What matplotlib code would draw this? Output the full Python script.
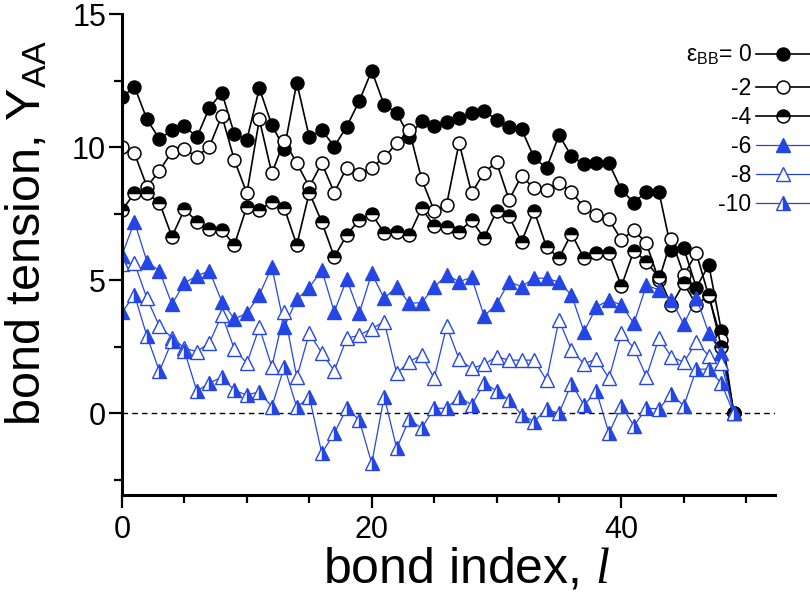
import matplotlib
matplotlib.use("Agg")
import matplotlib.pyplot as plt
import numpy as np

# ---------------- data ----------------
bond_index = list(range(50))

eps_labels = ["0", "-2", "-4", "-6", "-8", "-10"]

tension_eps0 = [11.88, 12.28, 11.05, 10.31, 10.65, 10.80, 10.38, 11.49, 12.05, 10.50,
                10.28, 12.22, 10.84, 9.95, 12.43, 10.38, 10.65, 10.03, 10.78, 11.74,
                12.88, 11.59, 11.30, 10.40, 11.00, 10.80, 10.96, 11.09, 11.30, 11.38,
                11.03, 10.78, 10.68, 9.62, 9.21, 10.46, 9.67, 9.37, 9.42, 9.40,
                8.40, 7.92, 8.33, 8.33, 6.14, 6.20, 4.73, 5.58, 3.11, 0.0]

tension_eps2 = [10.00, 9.77, 8.52, 9.12, 9.84, 9.92, 9.65, 10.03, 11.18, 9.52,
                8.27, 11.05, 9.02, 10.25, 9.40, 8.52, 9.40, 8.30, 9.24, 8.98,
                9.24, 9.62, 10.15, 10.65, 8.80, 7.62, 7.85, 10.17, 8.28, 9.05,
                9.44, 8.03, 8.92, 8.46, 8.40, 8.66, 8.33, 7.74, 7.46, 7.29,
                6.52, 6.89, 6.39, 5.00, 6.54, 5.20, 6.02, 4.40, 2.76, 0.0]

tension_eps4 = [7.64, 8.27, 8.27, 7.92, 6.64, 7.67, 7.21, 6.92, 6.89, 6.33,
                7.77, 7.64, 7.96, 7.71, 6.33, 8.30, 7.19, 5.88, 6.70, 7.28,
                7.50, 6.78, 6.83, 6.70, 7.71, 7.04, 6.99, 6.83, 7.25, 6.60,
                7.60, 7.40, 6.45, 7.62, 6.25, 5.84, 6.76, 5.83, 6.02, 6.01,
                4.78, 6.12, 5.70, 5.11, 4.07, 4.89, 4.07, 4.45, 2.50, 0.0]

tension_eps6 = [5.95, 7.20, 5.70, 5.35, 4.10, 4.90, 5.17, 5.35, 4.20, 3.55,
                3.76, 4.45, 5.51, 3.26, 4.28, 4.73, 5.39, 3.82, 5.04, 3.76,
                5.26, 4.32, 4.76, 4.14, 4.16, 4.74, 5.20, 4.95, 5.11, 3.66,
                4.10, 4.95, 4.76, 5.08, 5.08, 4.93, 4.45, 3.07, 4.00, 4.26,
                4.07, 3.38, 4.82, 4.64, 4.26, 3.35, 4.35, 3.01, 2.26, 0.0]

tension_eps8 = [5.60, 5.65, 4.32, 3.27, 2.85, 2.45, 2.32, 2.65, 3.70, 2.42,
                1.88, 3.23, 1.75, 3.80, 1.35, 3.01, 2.27, 1.60, 2.82, 2.94,
                3.18, 3.45, 1.50, 1.94, 2.19, 1.32, 3.28, 2.03, 1.69, 1.84,
                2.13, 2.00, 2.00, 2.00, 1.25, 3.51, 2.38, 1.86, 2.05, 1.32,
                3.01, 2.44, 1.38, 2.82, 2.13, 1.92, 2.68, 2.16, 1.90, 0.0]

tension_eps10 = [3.80, 4.45, 2.90, 1.58, 2.72, 2.35, 0.83, 1.14, 1.36, 0.86,
                 0.69, 0.81, 0.25, 1.75, 0.22, 0.63, -1.50, -0.75, 0.19, -0.25,
                 -1.88, 0.63, -1.32, -0.23, -0.56, 0.19, 0.19, 0.63, 0.31, 1.13,
                 0.85, 0.50, -0.06, -0.31, 0.15, 0.00, 1.12, 0.31, 0.83, -0.75,
                 0.28, -0.47, 0.19, 0.17, 0.72, 0.28, 1.66, 1.66, 1.13, 0.0]

x_major = [0, 20, 40]
y_major = [0, 5, 10, 15]

# ---------------- style ----------------
plt.rcParams['font.family'] = ['Liberation Sans', 'DejaVu Sans']
plt.rcParams['mathtext.fontset'] = 'custom'
plt.rcParams['mathtext.rm'] = 'Liberation Sans'
plt.rcParams['mathtext.it'] = 'Liberation Serif:italic'
plt.rcParams['mathtext.bf'] = 'Liberation Sans:bold'

BLUE = '#2446E6'
BLACK = 'black'

fig = plt.figure(figsize=(8.10, 5.98), dpi=100)
W, H = 810, 598
ax = fig.add_axes([122 / W, (H - 495) / H, (775 - 122) / W, (495 - 14.3) / H])

ms = 9.3
series = [
    (tension_eps0, dict(color=BLACK, lw=1.2, marker='o', ms=ms, mfc=BLACK, mec=BLACK, mew=1.1)),
    (tension_eps2, dict(color=BLACK, lw=1.2, marker='o', ms=ms, mfc='white', mec=BLACK, mew=1.1)),
    (tension_eps4, dict(color=BLACK, lw=1.2, marker='o', ms=ms, mfc=BLACK, mec=BLACK, mew=1.1,
                        fillstyle='top', markerfacecoloralt='white')),
    (tension_eps6, dict(color=BLUE, lw=0.9, marker='^', ms=ms + 1.2, mfc=BLUE, mec=BLUE, mew=1.0)),
    (tension_eps8, dict(color=BLUE, lw=0.9, marker='^', ms=ms + 1.2, mfc='white', mec=BLUE, mew=1.0)),
    (tension_eps10, dict(color=BLUE, lw=0.9, marker='^', ms=ms + 1.2, mfc=BLUE, mec=BLUE, mew=1.0,
                         fillstyle='right', markerfacecoloralt='white')),
]

handles = []
for (vals, kw), lab in zip(series, eps_labels):
    h, = ax.plot(bond_index, vals, **kw)
    handles.append(h)

ax.axhline(0, color='black', lw=1.0, ls=(0, (4, 3)), zorder=1)

ax.set_xlim(0, 52.3)
ax.set_ylim(-3.07, 15)

for s in ['top', 'right']:
    ax.spines[s].set_visible(False)
for s in ['left', 'bottom']:
    ax.spines[s].set_linewidth(2.2)

ax.set_xticks(x_major)
ax.set_xticks(np.arange(0, 52.3, 5), minor=True)
ax.set_yticks(y_major)
ax.set_yticks(np.arange(-2.5, 15.1, 2.5), minor=True)
ax.tick_params(which='major', direction='out', length=9.5, width=1.6, labelsize=22)
ax.tick_params(which='minor', direction='out', length=5.5, width=1.6)
ax.tick_params(axis='x', which='major', pad=5)
ax.tick_params(axis='y', which='major', pad=2)

ax.set_xlabel(r'bond index, $\mathit{l}$', fontsize=36)
ax.set_ylabel(r'bond tension, Y$_{\mathrm{AA}}$', fontsize=35)
ax.xaxis.set_label_coords(0.527, -0.108)
ax.yaxis.set_label_coords(-0.11, 0.545)

leg_kw = dict(loc='upper right', frameon=False, markerfirst=False, fontsize=16.5,
              handlelength=2.35, handletextpad=0.2, borderpad=0, borderaxespad=0)
first_label = 'ε$_{\\mathrm{BB}}$= 0'
leg1 = fig.legend(handles[:1], [first_label], bbox_to_anchor=(810 / W, 1 - 43 / H), **leg_kw)
leg2 = fig.legend(handles[1:], eps_labels[1:], bbox_to_anchor=(810 / W, 1 - 77 / H),
                  labelspacing=0.26, **leg_kw)

fig.savefig('out.png', dpi=100)
